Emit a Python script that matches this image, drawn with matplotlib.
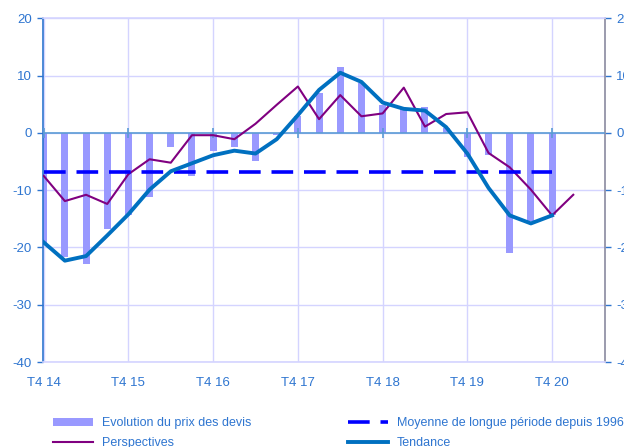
import matplotlib.pyplot as plt
import numpy as np

plt.rcParams['font.family'] = ['Liberation Sans', 'DejaVu Sans']
plt.rcParams['axes.unicode_minus'] = False

# quarters from T4 14 (index 0) onwards
quarters = np.arange(26)
tick_labels = ['T4 14', 'T4 15', 'T4 16', 'T4 17', 'T4 18', 'T4 19', 'T4 20']
tick_pos = [0, 4, 8, 12, 16, 20, 24]

evolution = [-19.5, -21.7, -22.8, -16.8, -14.4, -11.1, -2.4, -7.5, -3.2, -2.5,
             -4.9, -0.3, 2.9, 6.9, 11.5, 8.7, 4.9, 4.1, 4.5, 0.8,
             -4.2, -3.9, -21.0, -15.4, -14.4]
perspectives = [-7.5, -11.9, -10.8, -12.4, -7.2, -4.6, -5.2, -0.4, -0.4, -1.1,
                1.6, 4.9, 8.1, 2.4, 6.6, 2.9, 3.4, 7.9, 1.1, 3.3,
                3.6, -3.5, -6.0, -9.9, -14.4, -10.8]
tendance = [-19.1, -22.3, -21.5, -17.9, -14.2, -9.9, -6.7, -5.3, -3.9, -3.1,
            -3.6, -1.1, 3.1, 7.5, 10.5, 8.9, 5.3, 4.2, 3.9, 1.0,
            -3.6, -9.6, -14.4, -15.8, -14.4]
moyenne = -6.75

blue_txt = '#2E75D0'
grid_c = '#D4D4FF'

fig = plt.figure(figsize=(6.24, 4.47), dpi=100)
ax = fig.add_axes([0.069, 0.19, 0.9006, 0.769])

n = len(evolution)
ax.bar(quarters[:n], evolution, width=0.33, color='#9999FF', zorder=2,
       label='Evolution du prix des devis')
ax.axhline(0, color='#5B9BD5', lw=1.2, zorder=3)
ax.plot(tick_pos, [0] * len(tick_pos), ls='none', marker='|', ms=7,
        mew=1.2, color='#5B9BD5', zorder=3)
ax.plot(quarters[:len(perspectives)], perspectives, color='#800080', lw=1.5,
        zorder=4, label='Perspectives')
mean_line, = ax.plot(quarters[:n], [moyenne] * n, color='#0000FF', lw=2.6,
                     zorder=4, label='Moyenne de longue période depuis 1996')
mean_line.set_dashes([6.0, 3.0])
ax.plot(quarters[:len(tendance)], tendance, color='#0070C0', lw=2.8,
        zorder=5, label='Tendance')

ax.set_xlim(-0.03, 26.5)
ax.set_ylim(-40, 20)
ax.set_yticks(range(-40, 21, 10))
ax.set_xticks(tick_pos)
ax.set_xticklabels(tick_labels)
ax.grid(True, color=grid_c, lw=1, zorder=0)
ax.set_axisbelow(True)

ax.tick_params(axis='x', length=0, pad=11, labelsize=9.5, labelcolor=blue_txt)
ax.tick_params(axis='y', which='both', direction='out', length=4, width=1,
               labelsize=9.5, labelcolor=blue_txt, color=blue_txt,
               left=True, right=True, labelleft=True, labelright=True, pad=4)

ax.spines['left'].set_color(blue_txt)
ax.spines['right'].set_color('#8A8AA0')
ax.spines['top'].set_color(grid_c)
ax.spines['bottom'].set_color(grid_c)
for s in ax.spines.values():
    s.set_linewidth(1.2)

h, l = ax.get_legend_handles_labels()
d = dict(zip(l, h))
leg1 = fig.legend([d['Evolution du prix des devis'], d['Perspectives']],
                  ['Evolution du prix des devis', 'Perspectives'],
                  loc='upper left', bbox_to_anchor=(0.085, 0.066),
                  frameon=False, fontsize=9, handlelength=3.2,
                  handletextpad=0.75, labelspacing=0.6, borderpad=0,
                  borderaxespad=0, labelcolor=blue_txt)
leg2 = fig.legend([d['Moyenne de longue période depuis 1996'], d['Tendance']],
                  ['Moyenne de longue période depuis 1996', 'Tendance'],
                  loc='upper left', bbox_to_anchor=(0.557, 0.066),
                  frameon=False, fontsize=9, handlelength=3.2,
                  handletextpad=0.75, labelspacing=0.6, borderpad=0,
                  borderaxespad=0, labelcolor=blue_txt)

plt.savefig('out.png', dpi=100)
